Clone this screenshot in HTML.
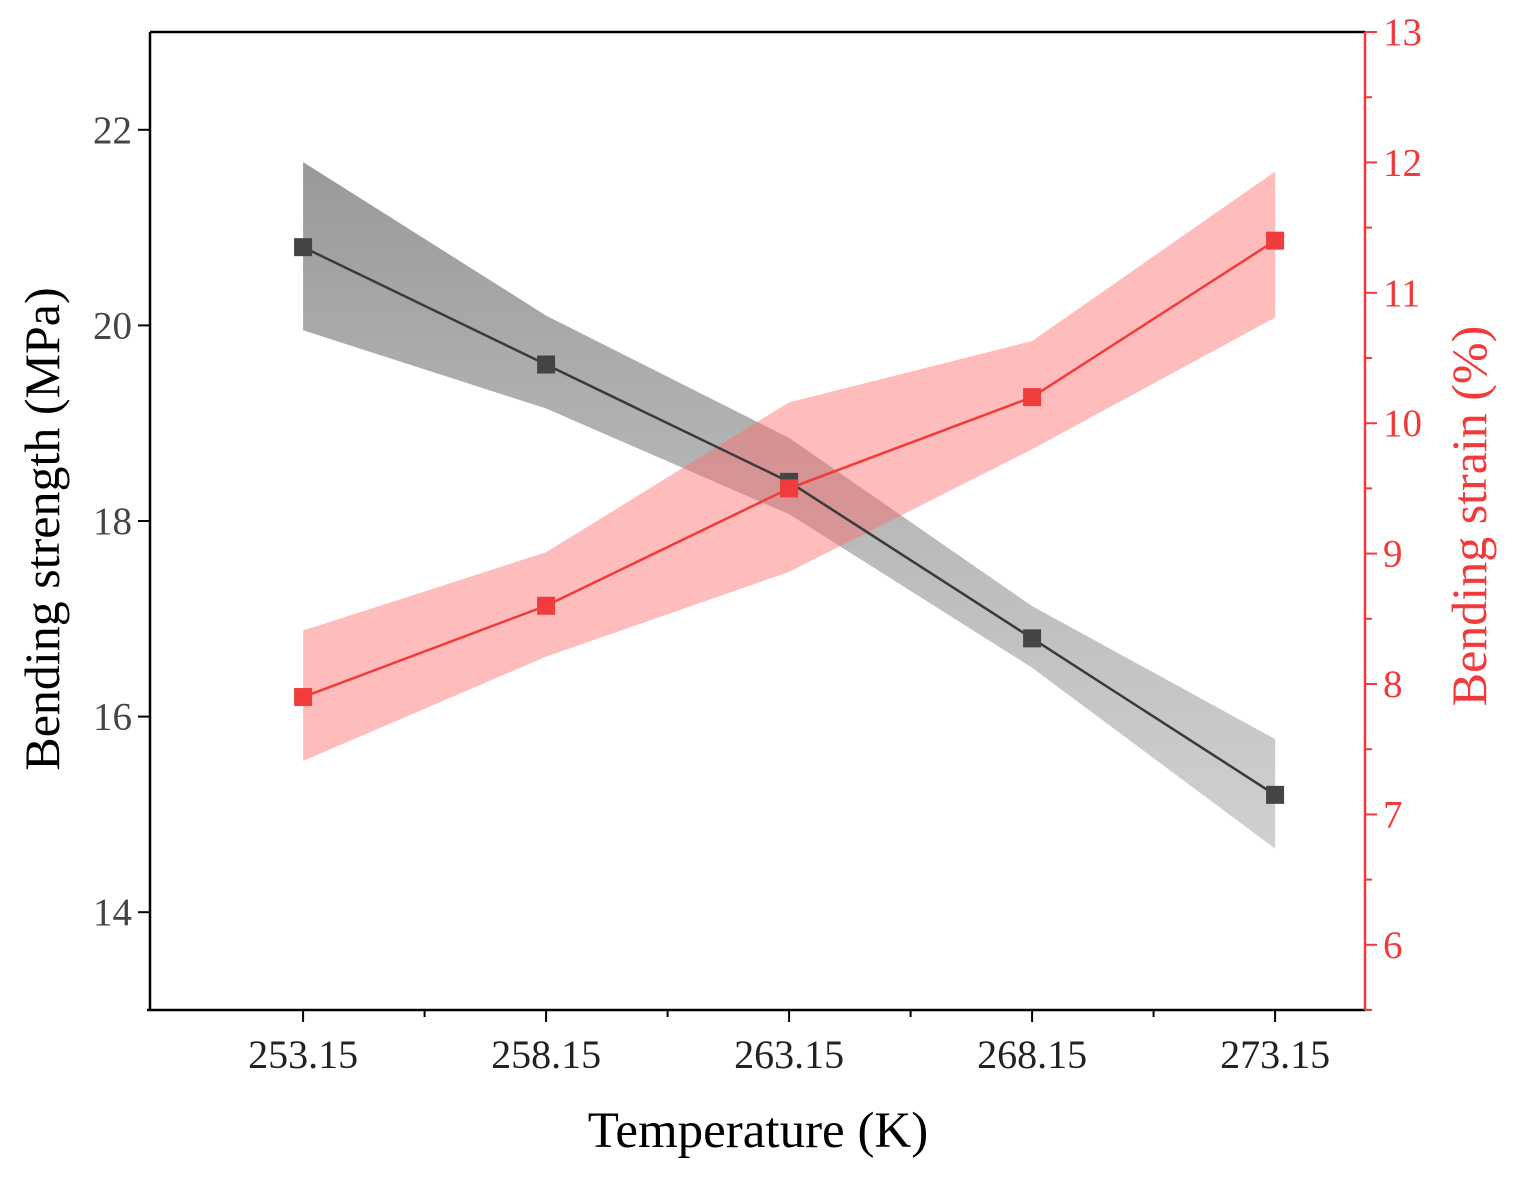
<!DOCTYPE html>
<html><head><meta charset="utf-8"><style>
body{margin:0;background:#fff}
svg text{font-family:"Liberation Serif",serif}
</style></head><body>
<svg id="chart" width="1516" height="1172" xmlns="http://www.w3.org/2000/svg">
<defs>
<linearGradient id="gg" x1="0" y1="0" x2="0" y2="1">
<stop offset="0" stop-color="#777" stop-opacity="0.75"/>
<stop offset="1" stop-color="#aaa" stop-opacity="0.55"/>
</linearGradient>
</defs>
<g id="plot"></g>
</svg>
<script>
const temps=[253.15,258.15,263.15,268.15,273.15];
const strength=[20.8,19.6,18.4,16.8,15.2];
const strengthUpper=[21.67,20.1,18.85,17.13,15.77];
const strengthLower=[19.95,19.15,18.07,16.5,14.65];
const strain=[7.9,8.6,9.5,10.2,11.4];
const strainUpper=[8.41,9.01,10.16,10.63,11.93];
const strainLower=[7.41,8.21,8.86,9.8,10.81];
const leftTicks=[14,16,18,20,22];
const rightTicks=[6,7,8,9,10,11,12,13];
const xTickLabels=["253.15","258.15","263.15","268.15","273.15"];

const L=150,R=1365,T=32,B=1010;
const X=v=>L+(v-250)/25*(R-L);
const YL=v=>B-(v-13)/10*(B-T);
const YR=v=>B-(v-5.5)/7.5*(B-T);
const g=document.getElementById('plot');
const NS='http://www.w3.org/2000/svg';
function mk(t,a,p){const e=document.createElementNS(NS,t);for(const k in a)e.setAttribute(k,a[k]);(p||g).appendChild(e);return e;}

let d=temps.map((t,i)=>(i?'L':'M')+X(t)+','+YL(strengthUpper[i])).join('')+temps.slice().reverse().map((t,j)=>{const i=temps.length-1-j;return 'L'+X(t)+','+YL(strengthLower[i]);}).join('')+'Z';
let e=mk('path',{d:d,fill:'url(#gg)'});

d=temps.map((t,i)=>(i?'L':'M')+X(t)+','+YR(strainUpper[i])).join('')+temps.slice().reverse().map((t,j)=>{const i=temps.length-1-j;return 'L'+X(t)+','+YR(strainLower[i]);}).join('')+'Z';
e=mk('path',{d:d,fill:'#ff6b6b','fill-opacity':0.45});


e=mk('polyline',{points:temps.map((t,i)=>X(t)+','+YL(strength[i])).join(' '),fill:'none',stroke:'#3a3a3a','stroke-width':2.5});

e=mk('polyline',{points:temps.map((t,i)=>X(t)+','+YR(strain[i])).join(' '),fill:'none',stroke:'#f23a3a','stroke-width':2.5});

temps.forEach((t,i)=>{
 let m=mk('rect',{x:X(t)-9,y:YL(strength[i])-9,width:18,height:18,fill:'#444'});
 
 m=mk('rect',{x:X(t)-9,y:YR(strain[i])-9,width:18,height:18,fill:'#f03c3c'});
 
});

e=mk('line',{x1:L,y1:T,x2:L,y2:B,stroke:'#000','stroke-width':2.5});

e=mk('line',{x1:L,y1:T,x2:R,y2:T,stroke:'#000','stroke-width':2.5});

e=mk('line',{x1:L-3,y1:B,x2:R,y2:B,stroke:'#000','stroke-width':2.5});

e=mk('line',{x1:R,y1:T,x2:R,y2:B,stroke:'#f23a3a','stroke-width':2.5});


leftTicks.forEach(v=>{
 mk('line',{x1:L,x2:L-12,y1:YL(v),y2:YL(v),stroke:'#000','stroke-width':2});
 const t=mk('text',{x:L-18,y:YL(v)+13,'text-anchor':'end','font-size':39,fill:'#444'});t.textContent=v;
 });
for(let v=5.5;v<=13;v+=0.5){
 const maj=Number.isInteger(v);
 mk('line',{x1:R,x2:R+(maj?12:7),y1:YR(v),y2:YR(v),stroke:'#f23a3a','stroke-width':2});
}
rightTicks.forEach(v=>{const t=mk('text',{x:R+18,y:YR(v)+13,'font-size':39,fill:'#f23a3a'});t.textContent=v;
 });
for(let v=253.15;v<=273.15;v+=2.5){
 const maj=Math.abs(((v-253.15)/5)-Math.round((v-253.15)/5))<0.01;
 mk('line',{x1:X(v),x2:X(v),y1:B,y2:B+(maj?12:7),stroke:'#000','stroke-width':2});
}
temps.forEach((v,i)=>{const t=mk('text',{x:X(v),y:B+58,'text-anchor':'middle','font-size':40,fill:'#222'});t.textContent=xTickLabels[i];
 });

e=mk('text',{x:758,y:1147,'text-anchor':'middle','font-size':51,fill:'#000'});e.textContent='Temperature (K)';

e=mk('text',{transform:'translate(59,529) rotate(-90)','text-anchor':'middle','font-size':50,fill:'#000'});e.textContent='Bending strength (MPa)';

e=mk('text',{transform:'translate(1486,516) rotate(-90)','text-anchor':'middle','font-size':50,fill:'#f23a3a'});e.textContent='Bending strain (%)';

</script>
</body></html>
